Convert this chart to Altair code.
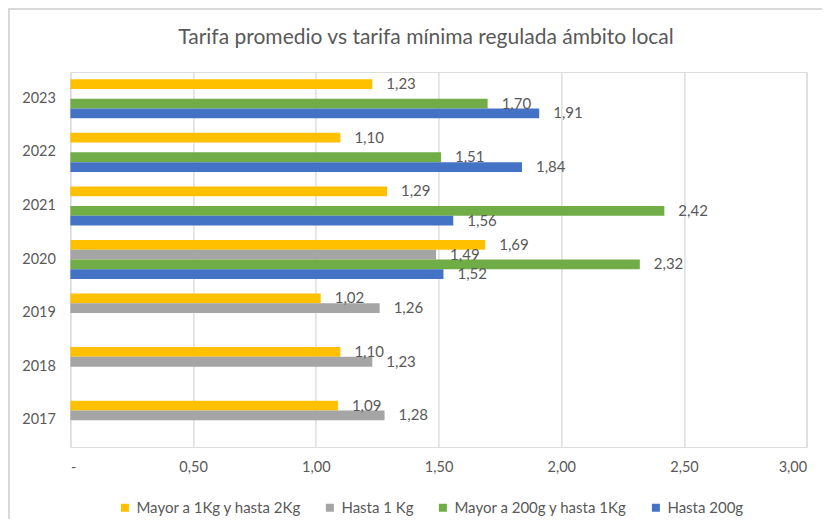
import altair as alt
import pandas as pd

years = ["2023", "2022", "2021", "2020", "2019", "2018", "2017"]
series = ["Mayor a 1Kg y hasta 2Kg", "Hasta 1 Kg", "Mayor a 200g y hasta 1Kg", "Hasta 200g"]
colors = ["#FFC000", "#A5A5A5", "#70AD47", "#4472C4"]
title_text = "Tarifa promedio vs tarifa mínima regulada ámbito local"

mayor_1kg_2kg = [1.23, 1.10, 1.29, 1.69, 1.02, 1.10, 1.09]
hasta_1kg = [None, None, None, 1.49, 1.26, 1.23, 1.28]
mayor_200g_1kg = [1.70, 1.51, 2.42, 2.32, None, None, None]
hasta_200g = [1.91, 1.84, 1.56, 1.52, None, None, None]

rows = []
for s, vals in zip(series, [mayor_1kg_2kg, hasta_1kg, mayor_200g_1kg, hasta_200g]):
    for y, v in zip(years, vals):
        if v is not None:
            rows.append({"year": y, "serie": s, "value": v})
df = pd.DataFrame(rows)

FONT = "Lato"
TXT = "#595959"
GRID = "#D9D9D9"

y_enc = alt.Y("year:N", sort=years,
              scale=alt.Scale(domain=years, paddingInner=0.27, paddingOuter=0.135),
              axis=alt.Axis(title=None, ticks=False, domain=False, labelPadding=15,
                            labelFontSize=14.5, labelColor=TXT, labelFont=FONT))
yoff = alt.YOffset("serie:N", sort=series, scale=alt.Scale(domain=series, paddingInner=0, paddingOuter=0))
x_enc = alt.X("value:Q",
              scale=alt.Scale(domain=[0, 3], nice=False),
              axis=alt.Axis(title=None, values=[0, 0.5, 1, 1.5, 2, 2.5, 3], ticks=False, domain=False,
                            grid=True, gridColor=GRID, gridWidth=1.3,
                            labelExpr="datum.value == 0 ? '-' : replace(format(datum.value, '.2f'), '.', ',')",
                            labelPadding=13, labelFontSize=14.5, labelColor=TXT, labelFont=FONT))

base = alt.Chart(df)

bars = base.mark_bar().encode(
    x=x_enc,
    y=y_enc,
    yOffset=yoff,
    color=alt.Color("serie:N", sort=series,
                    scale=alt.Scale(domain=series, range=colors),
                    legend=alt.Legend(title=None, orient="none", legendX=47, legendY=428,
                                      direction="horizontal", symbolType="square", symbolSize=64,
                                      symbolStrokeWidth=0, labelFont=FONT, labelFontSize=15,
                                      labelColor=TXT, labelOffset=4, columnPadding=21,
                                      labelLimit=400)),
)

labels = base.transform_calculate(
    lbl="replace(format(datum.value, '.2f'), '.', ',')"
).mark_text(align="left", baseline="middle", dx=14, font=FONT, fontSize=15, color=TXT).encode(
    x="value:Q",
    y=alt.Y("year:N", sort=years),
    yOffset=alt.YOffset("serie:N", sort=series),
    text="lbl:N",
)

title = alt.Chart(alt.Data(values=[{"t": title_text}])).mark_text(
    align="center", baseline="alphabetic", font=FONT, fontSize=21, color=TXT
).encode(x=alt.value(355.6), y=alt.value(-28), text="t:N")

border_top = alt.Chart(alt.Data(values=[{}])).mark_rule(color=GRID, strokeWidth=2).encode(
    x=alt.value(-62.4), x2=alt.value(760), y=alt.value(-63)
)
border_left = alt.Chart(alt.Data(values=[{}])).mark_rule(color=GRID, strokeWidth=2).encode(
    x=alt.value(-61.4), y=alt.value(-64), y2=alt.value(447)
)

chart = alt.layer(bars, labels, title, border_top, border_left).properties(
    width=736.3,
    height=375,
    padding={"left": 62.4, "top": 64, "right": 15.3, "bottom": 72},
    autosize=alt.AutoSizeParams(type="none"),
).configure_view(stroke=None).configure(background="white")

chart.save("out.html", embed_options={"renderer": "svg", "actions": False})
